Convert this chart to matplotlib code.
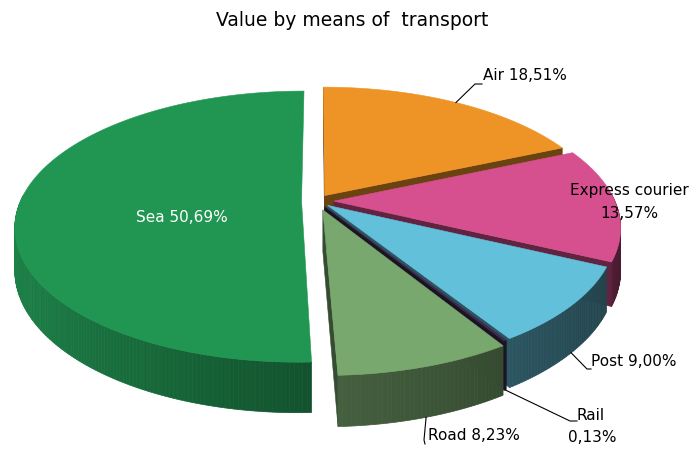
import numpy as np
import matplotlib.pyplot as plt
from matplotlib.patches import Polygon
from matplotlib.colors import to_rgb

labels = ["Air", "Express courier", "Post", "Rail", "Road", "Sea"]
shares = [18.51, 13.57, 9.00, 0.13, 8.23, 50.69]
colors = ["#EE9426", "#D6508F", "#62C0DA", "#3D2B4F", "#78A86E", "#219653"]
explode = [0.05, 0.06, 0.05, 0.05, 0.07, 0.055]

# layout of the fake 3d pie, in pixels
CX, CY = 317, 201
RX, RY = 281, 130.7
PERSP = 0.188
DEPTH = 41
# viewer position in the pie plane, only used to hide back faces
CAM = np.array([-0.07, -1 / PERSP])


def project(X, U, h):
    s = 1 + PERSP * U
    return CX + RX * X / s, CY - RY * U / s + DEPTH * h / s


def shade(c, f):
    return tuple(np.clip(np.array(to_rgb(c)) * f, 0, 1))


def pct(v):
    return f"{v:.2f}%".replace(".", ",")


fig = plt.figure(figsize=(6.91, 4.51), dpi=100)
ax = fig.add_axes([0, 0, 1, 1])
ax.set_xlim(0, 691)
ax.set_ylim(451, 0)
ax.axis("off")

# shares add up to a bit more than 100, scale to the full circle
frac = np.array(shares) / np.sum(shares)
cum = np.concatenate([[0], np.cumsum(frac)])
slices = []
for i in range(len(shares)):
    t0 = np.radians(90 - cum[i] * 360)
    t1 = np.radians(90 - cum[i + 1] * 360)
    slices.append((i, t0, t1, (t0 + t1) / 2))

# far slices first
order = sorted(slices, key=lambda s: -np.sin(s[3]))
anchors = {}
for i, t0, t1, m in order:
    ox, ou = explode[i] * np.cos(m), explode[i] * np.sin(m)
    c = colors[i]

    def rim(t, h):
        return project(ox + np.cos(t), ou + np.sin(t), h)

    tip0 = project(ox, ou, 0)
    tip1 = project(ox, ou, 1)

    # cut faces, only the ones turned to the viewer
    for t, n in ((t0, t0 + np.pi / 2), (t1, t1 - np.pi / 2)):
        normal = np.array([np.cos(n), np.sin(n)])
        if normal @ (CAM - np.array([ox, ou])) <= 0:
            continue
        pts = [tip0, rim(t, 0), rim(t, 1), tip1]
        ax.add_patch(Polygon(pts, closed=True, fc=shade(c, 0.45),
                             ec=shade(c, 0.45), lw=0.4))

    # outer wall, small strips for shading
    ts = np.linspace(t0, t1, max(3, int(abs(t1 - t0) * 80)))
    for a, b in zip(ts[:-1], ts[1:]):
        if np.sin((a + b) / 2) > 0.05:
            continue
        f = 0.58 - 0.25 * np.cos((a + b) / 2)
        if labels[i] == "Sea":
            f = 0.56 - 0.31 * np.cos((a + b) / 2)
        col = shade(c, f)
        pts = [rim(a, 0), rim(b, 0), rim(b, 1), rim(a, 1)]
        ax.add_patch(Polygon(pts, closed=True, fc=col, ec=col, lw=0.5))

    # top
    pts = [tip0] + [rim(t, 0) for t in np.linspace(t0, t1, 200)]
    ax.add_patch(Polygon(pts, closed=True, fc=c, ec=c, lw=0.4))

    anchors[labels[i]] = (rim(m, 0), rim(m, 1))

font = "DejaVu Sans"
fs = 11

ax.text(352, 20, "Value by means of  transport", ha="center", va="center",
        fontsize=13.5, family=font)

ax.text(182, 218, "Sea " + pct(shares[5]), ha="center", va="center",
        color="white", fontsize=fs, family=font)

# Air
x0, y0 = anchors["Air"][0]
ax.plot([x0, 475, 482], [y0, 84, 84], color="black", lw=0.8)
ax.text(483, 76, "Air " + pct(shares[0]), ha="left", va="center",
        fontsize=fs, family=font)

# Express courier
ax.text(629, 190, "Express courier", ha="center", va="center",
        fontsize=fs, family=font)
ax.text(629, 213, pct(shares[1]), ha="center", va="center",
        fontsize=fs, family=font)

# Post
x0, y0 = anchors["Post"][1]
ax.plot([x0, 587, 591], [y0, 369, 369], color="black", lw=0.8)
ax.text(591, 362, "Post " + pct(shares[2]), ha="left", va="center",
        fontsize=fs, family=font)

# Rail
x0, y0 = anchors["Rail"][1]
ax.plot([x0, 570, 577], [y0, 421, 421], color="black", lw=0.8)
ax.text(591, 415, "Rail", ha="center", va="center", fontsize=fs, family=font)
ax.text(592, 437, pct(shares[3]), ha="center", va="center",
        fontsize=fs, family=font)

# Road
x0, y0 = anchors["Road"][1]
ax.plot([x0, 424, 425], [y0, 440, 444], color="black", lw=0.8)
ax.text(428, 435, "Road " + pct(shares[4]), ha="left", va="center",
        fontsize=fs, family=font)

fig.savefig("out.png", dpi=100)
